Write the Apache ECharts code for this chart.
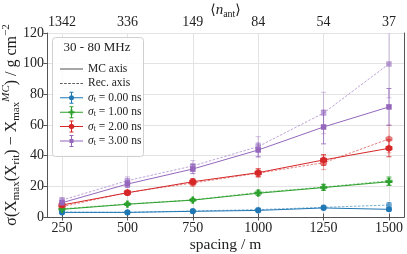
<!DOCTYPE html>
<html><head><meta charset="utf-8">
<script src="https://cdn.jsdelivr.net/npm/echarts@6/dist/echarts.min.js"></script>
<style>html,body{margin:0;padding:0;background:#fff}#c{width:407px;height:254px}</style>
</head><body><div id="c"></div>
<script>
const spacing = [250, 500, 750, 1000, 1250, 1500];
const nAntLabels = ['1342', '336', '149', '84', '54', '37'];
const sigmaLabels = ['0.00', '1.00', '2.00', '3.00'];

const mc0 = [3.0, 3.0, 3.7, 4.3, 5.9, 5.0],   mcErr0 = [0.6, 0.6, 0.7, 0.9, 1.0, 1.1];
const rec0 = [3.2, 3.1, 3.9, 4.8, 6.3, 7.8],  recErr0 = [0.6, 0.6, 0.7, 0.9, 1.1, 1.6];
const mc1 = [5.0, 8.3, 11.0, 15.5, 19.2, 23.0], mcErr1 = [0.8, 0.8, 1.0, 1.5, 1.8, 2.4];
const rec1 = [5.3, 8.5, 11.2, 16.0, 19.5, 23.6], recErr1 = [0.8, 0.9, 1.0, 1.6, 1.9, 2.8];
const mc2 = [7.8, 15.8, 23.0, 28.9, 37.2, 44.8], mcErr2 = [1.2, 1.5, 2.0, 2.5, 3.5, 5.5];
const rec2 = [6.7, 16.0, 22.2, 28.6, 35.4, 50.9], recErr2 = [1.2, 1.6, 2.2, 2.8, 4.5, 9.0];
const mc3 = [9.3, 21.5, 31.3, 43.7, 58.7, 71.8], mcErr3 = [1.5, 2.2, 3.0, 4.5, 11.0, 12.0];
const rec3 = [11.0, 23.7, 33.3, 45.9, 67.8, 99.8], recErr3 = [1.6, 2.5, 3.5, 6.5, 13.5, 22.0];

const mcVals = [mc0, mc1, mc2, mc3], mcErrs = [mcErr0, mcErr1, mcErr2, mcErr3];
const recVals = [rec0, rec1, rec2, rec3], recErrs = [recErr0, recErr1, recErr2, recErr3];
const colors = ['#1f77b4', '#2ca02c', '#d62728', '#9467bd'];
const markers = [
  'circle',
  'path://M2,0h2v2h2v2h-2v2h-2v-2h-2v-2h2z',
  'path://M3,0L5.6,1.5L5.6,4.5L3,6L0.4,4.5L0.4,1.5Z',
  'rect'
];
const markerSizes = [6, 7, 7, 5.5];
const base = 'M0,6.5h23v1h-23z M11,1h1v12h-1z M9.5,1h4v1h-4z M9.5,12h4v1h-4z ';
const legendIcons = [
  'path://' + base + 'M14,7a2.5,2.5 0 1 1 -5,0a2.5,2.5 0 1 1 5,0z',
  'path://' + base + 'M10.5,4h2v2h2v2h-2v2h-2v-2h-2v-2h2z',
  'path://' + base + 'M11.5,4L14.1,5.5L14.1,8.5L11.5,10L8.9,8.5L8.9,5.5Z',
  'path://' + base + 'M9.5,5h4v4h-4z'
];
const solidIcon = 'path://M0,0h23v1.5h-23z';
const dashedIcon = 'path://M0,0h2.6v0.9h-2.6z M4.1,0h2.6v0.9h-2.6z M8.2,0h2.6v0.9h-2.6z M12.3,0h2.6v0.9h-2.6z M16.4,0h2.6v0.9h-2.6z M20.4,0h2.6v0.9h-2.6z';

const FONT = 'Liberation Serif';
const chart = echarts.init(document.getElementById('c'), null, {renderer: 'canvas'});

function errRender(color, opacity, width) {
  return function (params, api) {
    const x = api.value(0), lo = api.value(1), hi = api.value(2);
    const p1 = api.coord([x, hi]), p2 = api.coord([x, lo]);
    const w = 2.5;
    const st = {stroke: color, lineWidth: width, opacity: opacity};
    return {type: 'group', children: [
      {type: 'line', shape: {x1: p1[0], y1: p1[1], x2: p2[0], y2: p2[1]}, style: st},
      {type: 'line', shape: {x1: p1[0] - w, y1: p1[1], x2: p1[0] + w, y2: p1[1]}, style: st},
      {type: 'line', shape: {x1: p2[0] - w, y1: p2[1], x2: p2[0] + w, y2: p2[1]}, style: st}
    ]};
  };
}

const series = [
  {name: 'MC axis', type: 'line', data: [], symbol: 'none', lineStyle: {color: '#888', width: 1.5}, itemStyle: {color: '#888'}},
  {name: 'Rec. axis', type: 'line', data: [], symbol: 'none', lineStyle: {color: '#000', width: 0.8, type: [2.5, 1.5]}, itemStyle: {color: '#222'}}
];
for (let k = 0; k < 4; k++) {
  series.push({
    name: 'r' + k, type: 'custom', clip: true, z: 2,
    renderItem: errRender(colors[k], 0.5, 0.8),
    data: spacing.map((s, i) => [s, recVals[k][i] - recErrs[k][i], recVals[k][i] + recErrs[k][i]])
  });
  series.push({
    name: 'r' + k + 'line', type: 'line', z: 3,
    data: spacing.map((s, i) => [s, recVals[k][i]]),
    symbol: markers[k], symbolSize: markerSizes[k],
    lineStyle: {color: colors[k], width: 0.8, type: [2.5, 1.5], opacity: 0.75},
    itemStyle: {color: colors[k], opacity: 0.6}
  });
  series.push({
    name: 'e' + k, type: 'custom', clip: true, z: 4,
    renderItem: errRender(colors[k], 0.9, 0.9),
    data: spacing.map((s, i) => [s, mcVals[k][i] - mcErrs[k][i], mcVals[k][i] + mcErrs[k][i]])
  });
  series.push({
    name: 's' + k, type: 'line', z: 5,
    data: spacing.map((s, i) => [s, mcVals[k][i]]),
    symbol: markers[k], symbolSize: markerSizes[k],
    lineStyle: {color: colors[k], width: 1},
    itemStyle: {color: colors[k]}
  });
}

const axisLineStyle = {lineStyle: {color: '#555', width: 1}};
const labelStyle = {fontFamily: FONT, fontSize: 14, color: '#222'};

chart.setOption({
  animation: false,
  backgroundColor: '#fff',
  grid: {left: 47, right: 3, top: 33, bottom: 37, containLabel: false, outerBoundsMode: 'none'},
  xAxis: [
    {
      type: 'value', position: 'bottom', min: 192.5, max: 1557.5,
      axisLine: axisLineStyle,
      axisTick: {show: true, length: 3.5, customValues: spacing, lineStyle: {color: '#555'}},
      axisLabel: Object.assign({customValues: spacing, margin: 4, formatter: v => String(v)}, labelStyle),
      splitLine: {show: true, lineStyle: {color: '#e3e3e3', width: 1}},
      name: 'spacing / m', nameLocation: 'middle', nameGap: 20, nameMoveOverlap: false,
      nameTextStyle: {fontFamily: FONT, fontSize: 15.5, color: '#222'}
    },
    {
      type: 'value', position: 'top', min: 192.5, max: 1557.5,
      axisLine: axisLineStyle,
      axisTick: {show: true, length: 3.5, customValues: spacing, lineStyle: {color: '#555'}},
      axisLabel: Object.assign({customValues: spacing, margin: 4,
        formatter: v => nAntLabels[spacing.indexOf(v)]}, labelStyle),
      splitLine: {show: false},
      name: '{t|⟨}{i|n}{s|ant}{t|⟩}', nameLocation: 'middle', nameGap: 14, nameMoveOverlap: false,
      nameTextStyle: {fontFamily: FONT, fontSize: 15, color: '#222', rich: {
        t: {fontFamily: 'DejaVu Serif', fontSize: 14, lineHeight: 18, color: '#222'},
        i: {fontFamily: FONT, fontStyle: 'italic', fontSize: 15, lineHeight: 18, color: '#222'},
        s: {fontFamily: FONT, fontSize: 10, lineHeight: 11, verticalAlign: 'bottom', color: '#222'}
      }}
    }
  ],
  yAxis: [
    {
      type: 'value', position: 'left', min: 0, max: 120, interval: 20,
      axisLine: {show: true, lineStyle: {color: '#555', width: 1}},
      axisTick: {show: true, length: 3.5, lineStyle: {color: '#555'}},
      axisLabel: Object.assign({margin: 3}, labelStyle),
      splitLine: {show: true, lineStyle: {color: '#e3e3e3', width: 1}},
      name: '{t|σ(X}{s|max}{t|(X}{s|rit}{t|) − X}{s|max}{p|MC}{t|) / g cm}{q|−2}',
      nameLocation: 'middle', nameRotate: 90, nameGap: 25, nameMoveOverlap: false,
      nameTextStyle: {fontFamily: FONT, fontSize: 15.5, color: '#222', rich: {
        t: {fontFamily: FONT, fontSize: 16, lineHeight: 21, color: '#222'},
        s: {fontFamily: FONT, fontSize: 11, lineHeight: 12, verticalAlign: 'bottom', color: '#222'},
        p: {fontFamily: FONT, fontStyle: 'italic', fontSize: 11, lineHeight: 12, verticalAlign: 'top', color: '#222'},
        q: {fontFamily: FONT, fontSize: 11, lineHeight: 12, verticalAlign: 'top', color: '#222'}
      }}
    },
    {
      type: 'value', position: 'right', min: 0, max: 120, interval: 20,
      axisLine: {show: true, lineStyle: {color: '#555', width: 1}},
      axisTick: {show: false}, axisLabel: {show: false}, splitLine: {show: false}
    }
  ],
  legend: {
    orient: 'vertical', left: 55, top: 58,
    itemWidth: 23, itemHeight: 14, itemGap: 2.4,
    data: [
      {name: 'MC axis', icon: solidIcon}, {name: 'Rec. axis', icon: dashedIcon},
      {name: 's0', icon: legendIcons[0]}, {name: 's1', icon: legendIcons[1]},
      {name: 's2', icon: legendIcons[2]}, {name: 's3', icon: legendIcons[3]}
    ],
    selectedMode: false,
    formatter: name => /^s\d$/.test(name)
      ? '{i|σ}{sub|t} = ' + sigmaLabels[+name[1]] + ' ns' : name,
    textStyle: {fontFamily: FONT, fontSize: 11.5, color: '#222', rich: {
      i: {fontFamily: FONT, fontStyle: 'italic', fontSize: 11.5, color: '#222'},
      sub: {fontFamily: FONT, fontSize: 8, lineHeight: 8, verticalAlign: 'bottom', color: '#222'}
    }}
  },
  graphic: [
    {type: 'rect', left: 52, top: 37, z: 3,
     shape: {width: 91, height: 119, r: 3},
     style: {fill: 'rgba(255,255,255,0.85)', stroke: '#d0d0d0', lineWidth: 1}},
    {type: 'text', x: 97, y: 48, z: 4,
     style: {text: '30 - 80 MHz', fontFamily: FONT, fontSize: 13, fill: '#222', align: 'center', verticalAlign: 'middle'}}
  ],
  series: series
});
</script>
</body></html>
